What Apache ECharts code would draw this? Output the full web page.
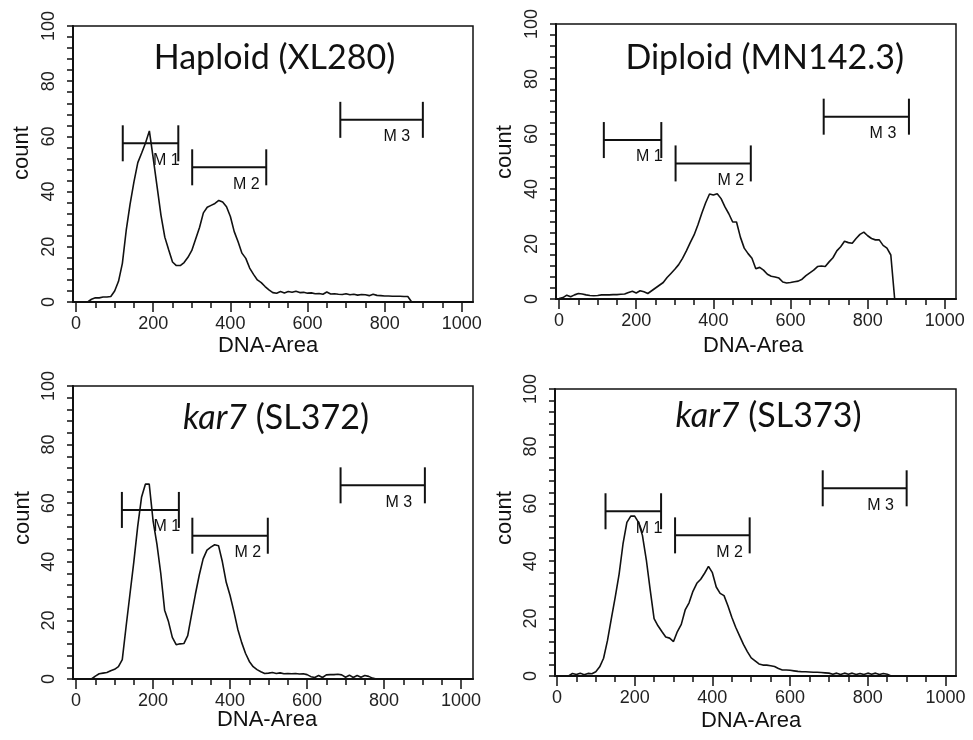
<!DOCTYPE html>
<html><head><meta charset="utf-8">
<script src="https://cdn.jsdelivr.net/npm/echarts@6/dist/echarts.min.js"></script>
<style>html,body{margin:0;padding:0;background:#fff}#c{width:973px;height:740px}</style>
</head><body><div id="c"></div>
<script>
// DNA-Area channels (x values)
const channels = [0,10,20,30,40,50,60,70,80,90,100,110,120,130,140,150,160,170,180,190,200,210,220,230,240,250,260,270,280,290,300,310,320,330,340,350,360,370,380,390,400,410,420,430,440,450,460,470,480,490,500,510,520,530,540,550,560,570,580,590,600,610,620,630,640,650,660,670,680,690,700,710,720,730,740,750,760,770,780,790,800,810,820,830,840,850,860,870,880,890,900,910,920,930,940,950,960,970,980,990,1000,1010,1020];

// counts per channel for each strain
const haploidXL280 = [0,0,0,0,1,1.5,1.5,1.8,1.8,2, 4,7.5,14,26,35.5,43.5,50.5,54,57.6,62, 52,41.8,31.5,23.5,18.9,14.5,13.2,13.2,14.3,16.2, 18.7,22.8,27,32.3,34.3,35,35.7,36.8,36.2,34.5, 31,25.5,21.8,17.7,15.8,12.3,10,8,7,5.6, 4.4,3.4,3.2,3.8,3.3,3.8,3.5,3.9,3.4,3.5, 3.2,3.3,3.0,3.1,2.8,3.6,2.9,3.0,2.8,2.7, 3.0,2.6,2.8,2.5,2.7,2.6,2.3,2.8,2.4,2.3, 2.2,2.2,2.1,2.1,2.1,2.0,2.0,0,0,0, 0,0,0,0,0,0,0,0,0,0, 0,0,0];
const diploidMN1423 = [0.2,0.5,1.4,0.8,1.5,2,1.8,1.5,1.3,1.2, 1.3,1.5,1.5,1.5,1.6,1.6,1.7,1.8,2.4,2.8, 2.2,3.0,2.6,2.0,3.0,4,5,6,7.8,9.3, 10.8,12.5,14.8,17.5,20.5,23.3,27,31.2,35,38.2, 37.8,38.3,36.5,33.5,31,28,28,22.5,18.5,16.5, 14.8,11,11.5,10.5,9,8.3,8,7.6,6.2,5.8, 6,6.3,6.5,7.2,8.5,9.5,10.5,11.8,12,11.8, 13.5,15,17.5,19,21,20.5,20.3,22,23.5,24.3, 23,22,21.5,21.5,19.5,18.5,16,0,0,0, 0,0,0,0,0,0,0,0,0,0, 0,0,0];
const kar7SL372 = [0,0,0,0,0,1.0,1.8,2.0,2.2,2.8, 3.3,4.2,6.6,18,29,40,52,62,66.5,66.5, 54,46,36,23.5,19.6,14.2,11.7,12,12.1,14.8, 22,29,35.5,41,44,45,45.8,45.5,40,33, 28.5,23,17,12.5,8.8,6,4.2,3.2,2.5,1.9, 2.0,2.2,1.9,2.1,1.8,1.9,1.8,1.9,1.7,1.8, 1.5,0.8,0.5,1.2,0.5,1.4,1.5,1.5,1.6,1.4, 0.6,1.3,0.5,1.2,0.6,1.2,0.9,0.3,0,0, 0,0,0,0,0,0,0,0,0,0, 0,0,0,0,0,0,0,0,0,0, 0,0,0];
const kar7SL373 = [0,0,0,0,0.9,0.5,1.0,0.4,0.9,0.8, 1.5,3.2,6.2,12.3,20,27.5,35.5,46,53.5,55.7, 55.7,53.5,49,40.5,30,20,17.5,15.5,13.6,13.2, 12,15.5,18,23,25.5,29.5,32.3,33.7,35.8,38.2, 36,31,28.8,28,24.5,20.5,17,14,11,8.5, 6.3,5.3,4.2,3.8,3.8,3.6,3.3,2.6,2.1,2.1, 2.0,1.8,1.6,1.5,1.5,1.4,1.3,1.3,1.2,1.1, 1.0,0.6,1.0,0.5,1.0,0.6,1.0,0.5,0.9,0.5, 1.0,0.6,1.0,0.5,0.9,0.6,0,0,0,0, 0,0,0,0,0,0,0,0,0,0, 0,0,0];

// gate markers: [start, end, level]
const markerNames = ['M1','M2','M3'];
const markersXL280 = [[121,265,57.5],[301,493,48.8],[685,899,66]];
const markersMN1423 = [[116,265,57.8],[302,497,49.3],[686,907,66.3]];
const markersSL372 = [[119,267,57.7],[302,498,48.9],[687,906,66.1]];
const markersSL373 = [[125,268,57.4],[304,496,49],[684,900,65.4]];

const panelTitles = ['Haploid (XL280)','Diploid (MN142.3)','{i|kar7} (SL372)','{i|kar7} (SL373)'];
const xLabelTicks = [0,200,400,600,800,1000];
const xMinorTicks = [50,100,150,250,300,350,450,500,550,650,700,750,850,900,950];
const xAxisName = 'DNA-Area';
const yAxisName = 'count';

// ---- layout / styling ----
const panels = [
  {grid:{left:73,top:26,width:400,height:276}, xmin:-8, xmax:1029, vals:haploidXL280, markers:markersXL280,
   title:[274.5,58], xname:[268,346], yname:[22,153]},
  {grid:{left:556,top:24,width:400,height:275}, xmin:-8, xmax:1029, vals:diploidMN1423, markers:markersMN1423,
   title:[764.7,58], xname:[753,346], yname:[505,152]},
  {grid:{left:73,top:386,width:400,height:293}, xmin:-8, xmax:1031, vals:kar7SL372, markers:markersSL372,
   title:[276,418], xname:[267,720], yname:[23,518]},
  {grid:{left:555,top:389,width:401,height:287}, xmin:-5, xmax:1027, vals:kar7SL373, markers:markersSL373,
   title:[768.5,416], xname:[751,721], yname:[505,518]}
];
const labelDx = [-12,-20,-26];
const ink = '#111';
const tickFont = {fontSize:18, fontFamily:'Liberation Sans', color:'#222'};

const grid = [], xAxis = [], yAxis = [], series = [], graphic = [];
panels.forEach((p, k) => {
  grid.push(Object.assign({show:true, borderColor:ink, borderWidth:1.5, backgroundColor:'#fff'}, p.grid));
  xAxis.push({type:'value', gridIndex:k, min:p.xmin, max:p.xmax, position:'bottom',
    axisLine:{show:true, onZero:false, lineStyle:{color:ink, width:2}},
    axisTick:{show:true, customValues:xLabelTicks, length:10, lineStyle:{color:ink, width:1.5}},
    axisLabel:Object.assign({show:true, customValues:xLabelTicks, margin:13, formatter:(v)=>String(v)}, tickFont),
    splitLine:{show:false}});
  xAxis.push({type:'value', gridIndex:k, min:p.xmin, max:p.xmax, position:'bottom',
    axisLine:{show:false},
    axisTick:{show:true, customValues:xMinorTicks, length:6, lineStyle:{color:ink, width:1.5}},
    axisLabel:{show:false}, splitLine:{show:false}});
  yAxis.push({type:'value', gridIndex:k, min:0, max:100, interval:20,
    axisLine:{show:true, onZero:false, lineStyle:{color:ink, width:2}},
    axisTick:{show:true, length:6, lineStyle:{color:ink, width:1.5}},
    minorTick:{show:true, splitNumber:5, length:6, lineStyle:{color:ink, width:1.5}},
    axisLabel:Object.assign({rotate:90, margin:15}, tickFont),
    splitLine:{show:false}, minorSplitLine:{show:false}});
  series.push({type:'line', xAxisIndex:2*k, yAxisIndex:k, showSymbol:false, symbol:'none',
    lineStyle:{color:ink, width:1.6}, data:channels.map((c,i)=>[c, p.vals[i]]), animation:false, z:3});
  series.push({type:'custom', xAxisIndex:2*k, yAxisIndex:k, clip:false, animation:false, z:4,
    data:p.markers,
    renderItem:function(params, api){
      const i = params.dataIndex;
      const a = api.coord([api.value(0), api.value(2)]);
      const b = api.coord([api.value(1), api.value(2)]);
      const h = 18;
      const st = {stroke:ink, lineWidth:2};
      return {type:'group', children:[
        {type:'line', shape:{x1:a[0],y1:a[1],x2:b[0],y2:b[1]}, style:st},
        {type:'line', shape:{x1:a[0],y1:a[1]-h,x2:a[0],y2:a[1]+h}, style:st},
        {type:'line', shape:{x1:b[0],y1:b[1]-h,x2:b[0],y2:b[1]+h}, style:st},
        {type:'text', x:b[0]+labelDx[i], y:a[1]+17,
          style:{text:markerNames[i].split('').join(' '), fill:ink, fontSize:16, fontFamily:'Liberation Sans',
            textAlign:'center', textVerticalAlign:'middle', align:'center', verticalAlign:'middle'}}
      ]};
    }});
  graphic.push({type:'text', x:p.title[0], y:p.title[1], z:10,
    style:{text:panelTitles[k], fill:ink, fontSize:34, fontFamily:'Lato',
      rich:{i:{fontStyle:'italic', fontSize:34, fontFamily:'Lato', fill:ink}},
      textAlign:'center', textVerticalAlign:'middle', align:'center', verticalAlign:'middle'}});
  graphic.push({type:'text', x:p.xname[0], y:p.xname[1], z:10,
    style:{text:xAxisName, fill:ink, fontSize:22, fontFamily:'Liberation Sans',
      textAlign:'center', textVerticalAlign:'middle', align:'center', verticalAlign:'middle'}});
  graphic.push({type:'text', x:p.yname[0], y:p.yname[1], rotation:Math.PI/2, z:10,
    style:{text:yAxisName, fill:ink, fontSize:22, fontFamily:'Liberation Sans',
      textAlign:'center', textVerticalAlign:'middle', align:'center', verticalAlign:'middle'}});
});

const chart = echarts.init(document.getElementById('c'), null, {renderer:'canvas'});
chart.setOption({backgroundColor:'#fff', animation:false, grid, xAxis, yAxis, series, graphic});
</script></body></html>
